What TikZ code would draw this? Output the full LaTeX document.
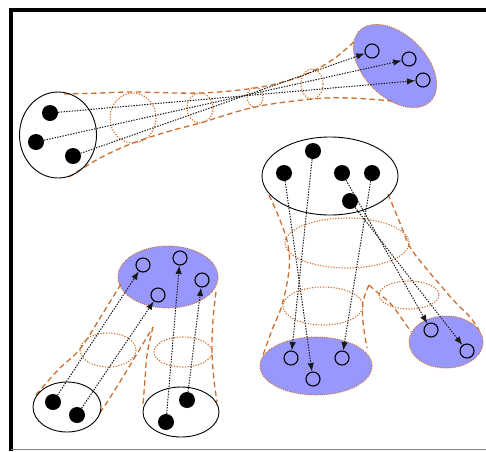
\documentclass[tikz,border=0pt]{standalone}
\usetikzlibrary{shapes.geometric,arrows.meta}
\definecolor{rust}{RGB}{204,112,48}
\definecolor{bluefill}{RGB}{152,152,252}
\begin{document}
\begin{tikzpicture}[x=1pt,y=-1pt,
  dot/.style={circle,fill=black,inner sep=0pt,minimum size=16pt},
  hole/.style={circle,draw=black,line width=1.1pt,fill=none,inner sep=0pt,minimum size=14pt},
  blob/.style={ellipse,draw=black,line width=0.9pt,inner sep=0pt},
  target/.style={ellipse,fill=bluefill,draw=rust,line width=1pt,
    dash pattern=on 1pt off 1.2pt,inner sep=0pt},
  silh/.style={draw=rust,line width=1.3pt,dash pattern=on 5.5pt off 3.5pt},
  ring/.style={draw=rust,line width=1.1pt,dash pattern=on 1.2pt off 1.5pt},
  flow/.style={draw=black!90,line width=1pt,dash pattern=on 1.4pt off 1.3pt,
    -{Latex[length=8.5pt,width=6.5pt]}}]
\useasboundingbox (0,0) rectangle (486,451);

% frame
\draw[line width=3.5pt] (11,451) -- (11,10) -- (486,10);
\draw[gray,line width=1pt] (11,449) -- (486,449);

% ---------- target regions ----------
\node[target,minimum width=100pt,minimum height=62pt,rotate=-45] (B) at (395,66) {};
\node[target,minimum width=100pt,minimum height=62pt] (E) at (168,277) {};
\node[target,minimum width=112pt,minimum height=58pt] (H) at (316,366) {};
\node[target,minimum width=74pt,minimum height=52pt] (K) at (446,342) {};

% ---------- tube from A to B ----------
\draw[silh] plot[smooth,tension=0.6] coordinates
  {(64,94) (100,93) (133,92) (200,93) (255,88) (290,80) (313,71) (335,58) (355,41)};
\draw[silh] plot[smooth,tension=0.6] coordinates
  {(69,177) (100,158) (133,143) (170,131) (200,123) (255,107) (313,99) (350,98) (392,101)};
\draw[ring] (133,118) ellipse [x radius=23,y radius=25];
\draw[ring] (200,108) ellipse [x radius=13,y radius=15];
\draw[ring] (255,97) ellipse [x radius=8,y radius=10];
\draw[ring] (312,84) ellipse [x radius=11,y radius=15];

% ---------- forked tube from D, F to E ----------
\draw[silh] plot[smooth,tension=0.6] coordinates
  {(36,395) (58,370) (80,349) (100,318) (121,284)};
\draw[silh] plot[smooth,tension=0.6] coordinates
  {(100,413) (118,385) (135,357) (153,327)};
\draw[silh] plot[smooth,tension=0.6] coordinates
  {(153,327) (147,355) (145,380) (143,404)};
\draw[silh] plot[smooth,tension=0.6] coordinates
  {(216,292) (213,320) (212,352) (214,380) (217,402)};
\draw[ring] (108,350) ellipse [x radius=28,y radius=17];
\draw[ring] (183,352) ellipse [x radius=29,y radius=15];

% ---------- forked tube from G to H, K ----------
\draw[silh] plot[smooth,tension=0.6] coordinates
  {(269,195) (280,220) (288,245) (289,270) (282,305) (272,330) (262,358)};
\draw[silh] plot[smooth,tension=0.6] coordinates
  {(369,285) (363,302) (363,322) (367,348)};
\draw[silh] plot[smooth,tension=0.6] coordinates
  {(369,285) (378,293) (390,303) (400,316) (411,332)};
\draw[silh] plot[smooth,tension=0.6] coordinates
  {(388,194) (400,223) (410,247) (425,267) (442,287) (456,303) (470,317) (479,330)};
\draw[ring] (347,243) ellipse [x radius=62,y radius=25];
\draw[ring] (323,306) ellipse [x radius=40,y radius=19];
\draw[ring] (409,295) ellipse [x radius=30,y radius=14];

% ---------- source regions ----------
\node[blob,minimum width=77pt,minimum height=86pt] (A) at (58,135) {};
\node[blob,minimum width=68pt,minimum height=50pt] (D) at (67,407) {};
\node[blob,minimum width=76pt,minimum height=50pt] (F) at (181,412) {};
\node[blob,minimum width=136pt,minimum height=78pt] (G) at (330,176) {};

% ---------- points ----------
\node[dot] (a1) at (50,113) {};
\node[dot] (a2) at (36,142) {};
\node[dot] (a3) at (73,156) {};
\node[hole] (c1) at (372,51) {};
\node[hole] (c2) at (409,59) {};
\node[hole] (c3) at (423,80) {};

\node[dot] (d1) at (53,402) {};
\node[dot] (d2) at (77,415) {};
\node[dot] (f1) at (166,422) {};
\node[dot] (f2) at (187,400) {};
\node[hole] (e1) at (143,265) {};
\node[hole] (e2) at (180,258) {};
\node[hole] (e3) at (202,280) {};
\node[hole] (e4) at (158,295) {};

\node[dot] (g1) at (313,151) {};
\node[dot] (g2) at (284,173) {};
\node[dot] (g3) at (342,173) {};
\node[dot] (g4) at (372,173) {};
\node[dot] (g5) at (350,201) {};
\node[hole] (h1) at (291,358) {};
\node[hole] (h2) at (313,379) {};
\node[hole] (h3) at (342,358) {};
\node[hole] (k1) at (431,330) {};
\node[hole] (k2) at (467,351) {};

% ---------- correspondences ----------
\draw[flow] (a1) -- (c3);
\draw[flow] (a2) -- (c2);
\draw[flow] (a3) -- (c1);

\draw[flow] (d1) -- (e1);
\draw[flow] (d2) -- (e4);
\draw[flow] (f1) -- (e2);
\draw[flow] (f2) -- (e3);

\draw[flow] (g2) -- (h2);
\draw[flow] (g1) -- (h1);
\draw[flow] (g4) -- (h3);
\draw[flow] (g3) -- (k1);
\draw[flow] (g5) -- (k2);
\end{tikzpicture}
\end{document}
